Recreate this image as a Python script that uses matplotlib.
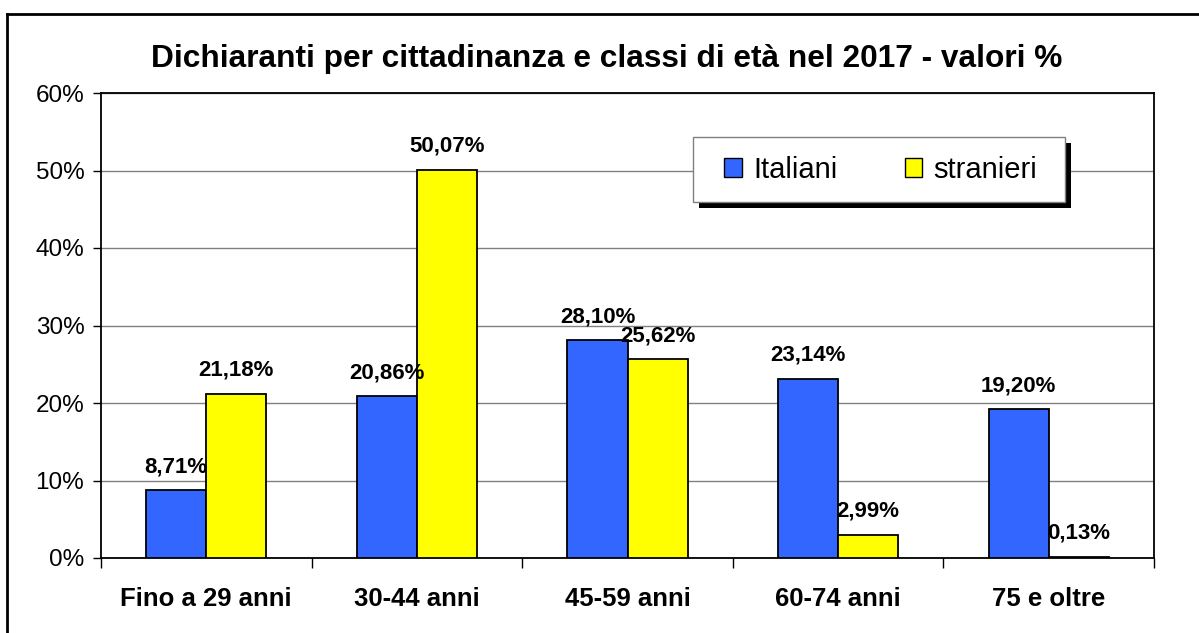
import numpy as np
import matplotlib.pyplot as plt
from matplotlib.lines import Line2D
from matplotlib.patches import Patch, Rectangle

plt.rcParams['font.family'] = ['Liberation Sans', 'DejaVu Sans']

# --- dati ---
classi = ['Fino a 29 anni', '30-44 anni', '45-59 anni', '60-74 anni', '75 e oltre']
italiani = [8.71, 20.86, 28.10, 23.14, 19.20]
stranieri = [21.18, 50.07, 25.62, 2.99, 0.13]
serie = ['Italiani', 'stranieri']
colori = ['#3366FF', '#FFFF00']

W, H = 1199, 633
fig = plt.figure(figsize=(W / 100, H / 100), dpi=100)
ax = fig.add_axes([101 / W, 1 - 558 / H, (1154 - 101) / W, (558 - 93) / H])

x = np.arange(len(classi))
bw = 0.285
for vals, col, off in [(italiani, colori[0], -bw / 2), (stranieri, colori[1], bw / 2)]:
    ax.bar(x + off, vals, width=bw, color=col, edgecolor='black', linewidth=1.3, zorder=3)
    for xi, v in zip(x + off, vals):
        ax.text(xi, v + 1.7, f'{v:.2f}%'.replace('.', ','), ha='center', va='bottom',
                fontsize=16, fontweight='bold', zorder=4)

ax.set_xlim(-0.5, len(classi) - 0.5)
ax.set_ylim(0, 60)
ax.set_yticks(np.arange(0, 61, 10))
ax.set_yticklabels([f'{v}%' for v in range(0, 61, 10)], fontsize=17.5)
ax.set_xticks(x)
ax.set_xticklabels(classi, fontsize=18.5, fontweight='bold')
ax.tick_params(axis='x', length=0, pad=21)
ax.tick_params(axis='y', length=6, width=1, pad=6)
# tacche tra le categorie
ax.set_xticks(np.arange(-0.5, len(classi), 1), minor=True)
ax.tick_params(axis='x', which='minor', length=7, width=1)
ax.grid(axis='y', color='#808080', linewidth=1, zorder=0)
for s in ax.spines.values():
    s.set_linewidth(1.3)
    s.set_color('black')

fig.text(607 / W, 1 - 59 / H, 'Dichiaranti per cittadinanza e classi di età nel 2017 - valori %',
         ha='center', va='center', fontsize=22.8, fontweight='bold')

# riquadro legenda con ombra
lx0, ly0, lx1, ly1 = 693, 137, 1065, 202
fig.add_artist(Rectangle(((lx0 + 6) / W, 1 - (ly1 + 6) / H), (lx1 - lx0) / W, (ly1 - ly0) / H,
                         transform=fig.transFigure, facecolor='black', edgecolor='none', zorder=5))
fig.add_artist(Rectangle((lx0 / W, 1 - ly1 / H), (lx1 - lx0) / W, (ly1 - ly0) / H,
                         transform=fig.transFigure, facecolor='white', edgecolor='#808080',
                         linewidth=1, zorder=6))

handles = [Patch(facecolor=c, edgecolor='black', linewidth=1) for c in colori]
leg = fig.legend(handles, serie, loc='center left', bbox_to_anchor=(724 / W, 1 - 170 / H),
                 ncol=2, fontsize=21, frameon=False,
                 handlelength=0.6, handleheight=0.6, handletextpad=0.4, columnspacing=2.3,
                 borderpad=0, borderaxespad=0)
leg.set_zorder(7)

# cornice esterna
fig.add_artist(Line2D([7 / W, 1], [1 - 14 / H, 1 - 14 / H], color='black', linewidth=2))
fig.add_artist(Line2D([7 / W, 7 / W], [1 - 14 / H, 0], color='black', linewidth=2))

fig.savefig('out.png', dpi=100)
